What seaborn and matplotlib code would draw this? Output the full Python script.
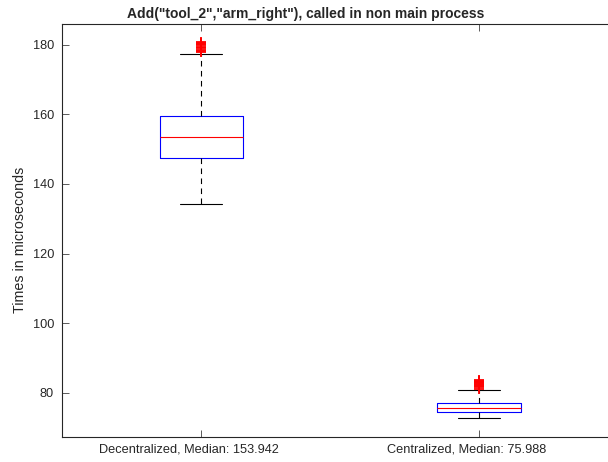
import numpy as np
import pandas as pd
import matplotlib
matplotlib.use("Agg")
import matplotlib.pyplot as plt
import matplotlib.transforms as mtransforms
import seaborn as sns

# ---- data ----
categories = ["Decentralized, Median: 153.942", "Centralized, Median: 75.988"]

decentralized_times = [
    134.2, 136.5, 138.9, 140.6, 141.8, 142.9, 143.7, 144.5, 145.2, 145.9, 146.5, 147.0,
    147.4, 148.0, 148.6, 149.2, 149.8, 150.4, 150.9, 151.5, 152.0, 152.5, 152.9, 153.2,
    153.4, 153.9, 154.5, 155.0, 155.6, 156.1, 156.7, 157.3, 157.8, 158.3, 158.8, 159.2,
    159.5, 163.0, 168.5, 177.4, 177.8, 178.2, 178.6, 179.0, 179.4, 179.8, 180.2, 180.5,
    180.7,
]

centralized_times = [
    72.6, 72.9, 73.2, 73.4, 73.6, 73.8, 73.9, 74.0, 74.1, 74.2, 74.3, 74.35,
    74.4, 74.5, 74.6, 74.7, 74.8, 74.9, 75.0, 75.1, 75.2, 75.3, 75.4, 75.5,
    75.6, 75.7, 75.8, 75.9, 76.0, 76.1, 76.2, 76.4, 76.5, 76.6, 76.8, 76.9,
    77.0, 78.5, 80.8, 81.2, 81.5, 81.8, 82.1, 82.4, 82.7, 83.0, 83.2, 83.4,
    83.6,
]

title_text = 'Add("tool_2","arm_right"), called in non main process'
ylabel_text = "Times in microseconds"
yticks = [80, 100, 120, 140, 160, 180]

df = pd.DataFrame({
    "group": [categories[0]] * len(decentralized_times) + [categories[1]] * len(centralized_times),
    "time": decentralized_times + centralized_times,
})

# ---- style ----
sns.set_style("ticks")
plt.rcParams["font.family"] = ["Liberation Sans", "DejaVu Sans"]
plt.rcParams["font.size"] = 9.2

fig = plt.figure(figsize=(6.08, 4.62), dpi=100)
ax_left, ax_right, ax_top, ax_bottom = 62.3, 618.0, 24.0, 436.7
ax = fig.add_axes([ax_left / 608, (462 - ax_bottom) / 462,
                   (ax_right - ax_left) / 608, (ax_bottom - ax_top) / 462])

sns.boxplot(
    data=df, x="group", y="time", order=categories, ax=ax,
    width=0.3, fill=False, color="blue", linewidth=0.8,
    whis=1.5,
    boxprops=dict(color="blue", linewidth=0.8),
    medianprops=dict(color="red", linewidth=0.8),
    whiskerprops=dict(color="black", linewidth=0.8, linestyle=(0, (5, 4))),
    capprops=dict(color="black", linewidth=0.8),
    flierprops=dict(marker="+", markeredgecolor="red", markerfacecolor="red",
                    markersize=7.5, markeredgewidth=1.3, linestyle="none"),
)

ax.set_xlim(-0.5, 1.5)
ax.set_ylim(67.36, 185.95)
ax.set_yticks(yticks)
ax.set_xlabel("")
ax.set_ylabel(ylabel_text, fontsize=10.3, color="#262626")
ax.yaxis.set_label_coords((27 - ax_left) / (ax_right - ax_left),
                          (ax_bottom - 240) / (ax_bottom - ax_top))
ax.set_title(title_text, fontsize=10, fontweight="bold", pad=4,
             x=(306 - ax_left) / (ax_right - ax_left))

for side in ["left", "bottom", "top", "right"]:
    ax.spines[side].set_visible(True)
    ax.spines[side].set_color("#262626")
    ax.spines[side].set_linewidth(0.8)

ax.tick_params(axis="both", direction="in", length=5, width=0.6, color="#404040",
               labelsize=9.2, labelcolor="#262626", top=True, right=True)
ax.tick_params(axis="y", pad=6)
ax.tick_params(axis="x", pad=5)

# the reference's category labels sit slightly left of their ticks
shift = mtransforms.ScaledTranslation(-12 / 100, 0, fig.dpi_scale_trans)
for tick in ax.xaxis.get_major_ticks():
    tick.label1.set_transform(tick.label1.get_transform() + shift)

fig.savefig("out.png", dpi=100)
